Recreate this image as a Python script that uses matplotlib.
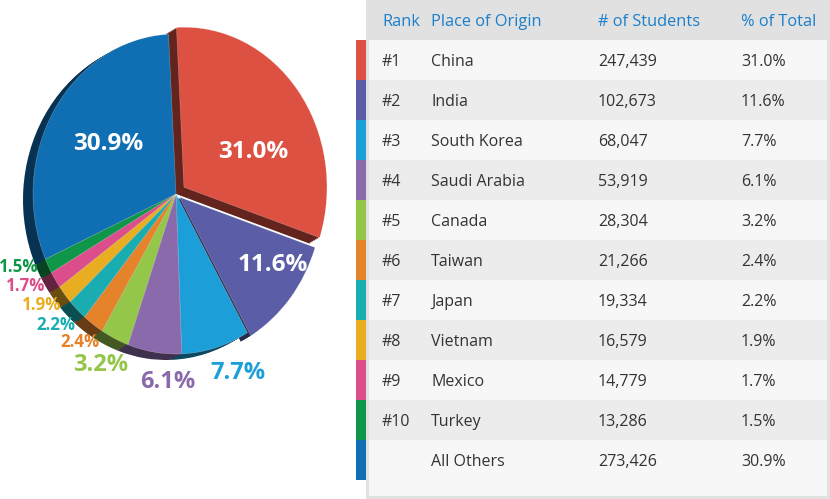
"""International students by place of origin: 3D-style pie plus ranking table."""
import matplotlib
matplotlib.use("Agg")
import matplotlib.pyplot as plt
import matplotlib.colors as mcolors
import numpy as np

plt.rcParams["font.family"] = ["Open Sans", "DejaVu Sans"]

ranks = ["#1", "#2", "#3", "#4", "#5", "#6", "#7", "#8", "#9", "#10", ""]
places = ["China", "India", "South Korea", "Saudi Arabia", "Canada", "Taiwan",
          "Japan", "Vietnam", "Mexico", "Turkey", "All Others"]
students = [247439, 102673, 68047, 53919, 28304, 21266, 19334, 16579,
            14779, 13286, 273426]
shares = [31.0, 11.6, 7.7, 6.1, 3.2, 2.4, 2.2, 1.9, 1.7, 1.5, 30.9]
colors = ["#dd5143", "#5b5ea6", "#1c9fd8", "#8b6aab", "#94c649", "#e5832a",
          "#19adb2", "#e9ad21", "#db4e8b", "#0f9648", "#106eb3"]
headers = ["Rank", "Place of Origin", "# of Students", "% of Total"]

# label placement (layout only): radial factor and angle nudge in degrees
label_r = [0.53, 0.78, 1.20, 1.175, 1.19, 1.14, 1.175, 1.17, 1.20, 1.19, 0.57]
label_nudge = [-12.7, 6, 5, 6, -1, -0.5, -2.0, -2.6, -3.8, -4.2, -2]
label_inside = [True, True, False, False, False, False, False, False, False, False, True]
label_size = [17.5, 17.5, 17, 17, 17, 12.2, 12.2, 12.2, 12.2, 12.2, 17.5]
explode = [0.07, 0.03, 0, 0, 0, 0, 0, 0, 0, 0, 0]

W, H = 830, 499
fig = plt.figure(figsize=(W / 100, H / 100), dpi=100)

# ---------- table (pixel x, row units in y) ----------
tab = fig.add_axes([0, 0, 1, 1])
tab.set_xlim(0, W)
tab.set_ylim((H - 40) / 40, -1)
tab.axis("off")

n = len(places)
rows = np.arange(n)
# outer frame and header band
tab.barh(-1, W - 366, height=H / 40, left=366, align="edge",
         color="#e1e1e1", zorder=1)
tab.barh(n, 827 - 369, height=0.4, left=369, align="edge",
         color="#f7f7f7", zorder=2)
row_bg = ["#f7f7f7" if i % 2 == 0 else "#ececec" for i in rows]
tab.barh(rows, 827 - 369, height=1, left=369, align="edge",
         color=row_bg, zorder=2)
# colour key strip
tab.barh(rows, 10, height=1, left=356, align="edge", color=colors, zorder=2)

col_x = [382, 431, 598, 741]
text_dy = 0.05
for x, h in zip(col_x, headers):
    tab.text(x, -0.5 + text_dy, h, ha="left", va="center", fontsize=11.8,
             color="#1a7fcc", zorder=3)
for i in rows:
    vals = [ranks[i], places[i], f"{students[i]:,}", f"{shares[i]:.1f}%"]
    for x, v in zip(col_x, vals):
        tab.text(x, i + 0.5 + text_dy, v, ha="left", va="center", fontsize=11.5,
                 color="#333333", zorder=3)

# ---------- pie (elliptical, with extruded depth) ----------
PW = 356
cx, cy, rx, ry = 176, 194, 143, 160
pie_ax = fig.add_axes([0, 0, PW / W, 1])
pie_ax.patch.set_alpha(0)

dark = [tuple(c * 0.45 for c in mcolors.to_rgb(col)) for col in colors]
steps = 6
for k in range(steps, 0, -1):
    f = k / steps
    wedges, _ = pie_ax.pie(shares, colors=dark, startangle=93, counterclock=False,
                           explode=explode, radius=1,
                           center=(-10 / rx * f, -6 / ry * f),
                           wedgeprops=dict(linewidth=0), frame=True)
    for w in wedges:
        w.set_zorder(1)
wedges, _ = pie_ax.pie(shares, colors=colors, startangle=93, counterclock=False,
                       explode=explode, radius=1, center=(0, 0),
                       wedgeprops=dict(linewidth=0.4, edgecolor=(1, 1, 1, 0.35)),
                       frame=True)
for w in wedges:
    w.set_zorder(2)
# stretch to the ellipse seen in the original (pie forces equal aspect)
pie_ax.set_aspect("auto")
pie_ax.set_xlim(-cx / rx, (PW - cx) / rx)
pie_ax.set_ylim(-(H - cy) / ry, cy / ry)
pie_ax.axis("off")

for i, w in enumerate(wedges):
    mid = np.deg2rad((w.theta1 + w.theta2) / 2 + label_nudge[i])
    x = w.center[0] + label_r[i] * np.cos(mid)
    y = w.center[1] + label_r[i] * np.sin(mid)
    col = "white" if label_inside[i] else colors[i]
    pie_ax.text(x, y, f"{shares[i]:.1f}%", ha="center", va="center",
                fontsize=label_size[i], fontweight="bold", color=col, zorder=5)

fig.savefig("out.png", dpi=100)
